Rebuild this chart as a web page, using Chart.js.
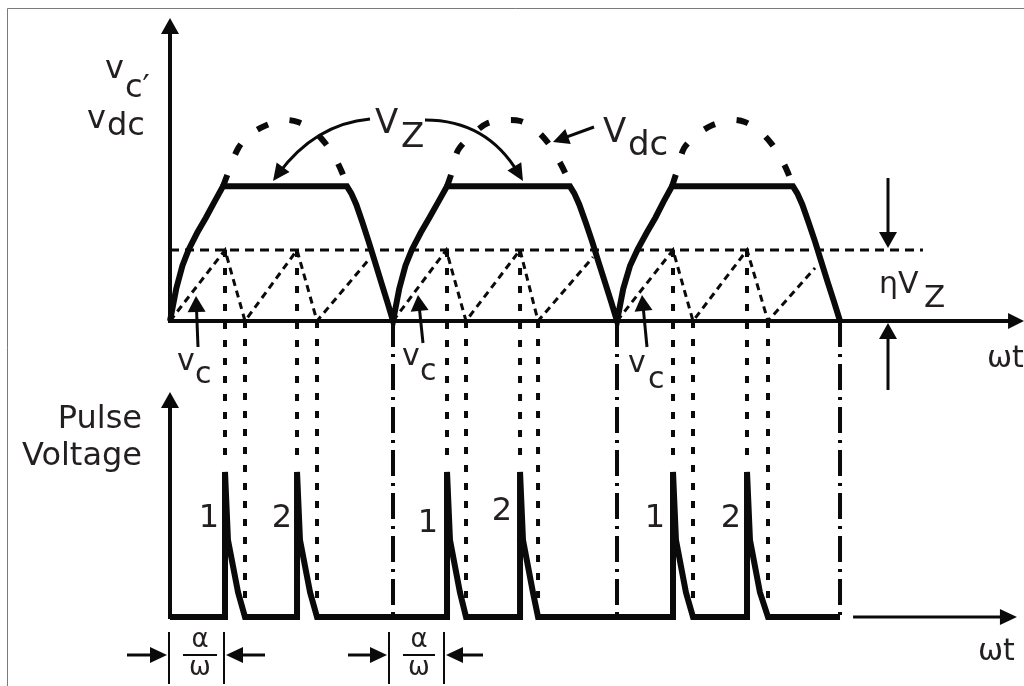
<!DOCTYPE html>
<html>
<head>
<meta charset="utf-8">
<script src="https://cdn.jsdelivr.net/npm/chart.js@4.4.0/dist/chart.umd.min.js"></script>
<style>
  body { margin: 0; background: #fff; }
  canvas { display: block; }
</style>
</head>
<body>
<canvas id="wave" width="1024" height="686"></canvas>
<script>
// ωt in degrees, upper voltages as a fraction of the vdc peak, pulses as a fraction of pulse height
let etaVzLevel = 0.353;

let vzAngles = [0, 5, 10, 15, 22, 29, 36, 42.7, 142.5, 146, 150, 155, 160, 165, 170, 175, 179.6,
    184.6, 189.6, 194.8, 202, 209, 216.3, 223.1, 322.1, 325.6, 329.6, 334.8, 340, 345, 350.2, 355.3, 360,
    365, 370.5, 376.5, 384, 391, 397.6, 404.3, 501.7, 505.2, 509.2, 514.3, 519.5, 524.5, 529.6, 534.8, 539.6];
let vzValues = [0, 0.16, 0.275, 0.355, 0.44, 0.515, 0.595, 0.67, 0.67, 0.635, 0.58, 0.49, 0.395, 0.295, 0.195, 0.095, 0,
    0.16, 0.275, 0.355, 0.44, 0.515, 0.595, 0.67, 0.67, 0.635, 0.58, 0.49, 0.395, 0.295, 0.195, 0.095, 0,
    0.16, 0.275, 0.355, 0.44, 0.515, 0.595, 0.67, 0.67, 0.635, 0.58, 0.49, 0.395, 0.295, 0.195, 0.095, 0];

let vdcAngles = [42.7, 47, 55, 65, 78, 92, 103, 115, 125, 133, 138.5, 142.5, null,
    223.1, 227, 232, 244, 256, 272, 282, 293, 304, 312, 318, 322.1, null,
    404.3, 408, 414, 425, 437, 453, 463, 474, 484, 492, 497.5, 501.7];
let vdcValues = [0.67, 0.74, 0.86, 0.93, 0.975, 1.0, 0.99, 0.95, 0.885, 0.81, 0.74, 0.67, null,
    0.67, 0.74, 0.85, 0.93, 0.985, 1.0, 0.995, 0.96, 0.89, 0.81, 0.74, 0.67, null,
    0.67, 0.74, 0.86, 0.93, 0.975, 1.0, 0.99, 0.95, 0.885, 0.81, 0.74, 0.67];

let vcAngles = [0, 44.3, 60.4, 102.3, 118.4, 161.1, null,
    179.6, 222.5, 238.4, 281.9, 296.4, 340.7, null,
    360, 405.1, 421.2, 464.7, 481.6, 519.5];
let vcValues = [0, 0.353, 0, 0.353, 0, 0.313, null,
    0, 0.353, 0, 0.353, 0, 0.318, null,
    0, 0.353, 0, 0.353, 0, 0.264];

let firingAngles = [44.3, 102.3, 223.1, 281.9, 405.1, 464.7];
let resetAngles = [60.4, 118.4, 238.4, 296.4, 421.2, 481.6];
let valleyAngles = [179.6, 360, 539.6];

let pulseAngles = [0, 44.3, 44.3, 46.7, 54.8, 60.4, 102.3, 102.3, 104.7, 112.8, 118.4,
    223.1, 223.1, 225.5, 233.5, 238.4, 281.9, 281.9, 284.3, 292.3, 296.4,
    405.1, 405.1, 407.5, 415.5, 421.2, 464.7, 464.7, 467.1, 475.1, 481.6, 539.6];
let pulseValues = [0, 0, 1, 0.53, 0.17, 0, 0, 1, 0.53, 0.17, 0,
    0, 1, 0.53, 0.17, 0, 0, 1, 0.53, 0.17, 0,
    0, 1, 0.53, 0.17, 0, 0, 1, 0.53, 0.17, 0, 0];

function points(xs, ys) {
    return xs.map((x, i) => x === null ? { x: NaN, y: null } : { x: x, y: ys[i] });
}

function verticals(xs, top, bottom) {
    let out = [];
    xs.forEach(x => {
        out.push({ x: x, y: top }, { x: x, y: bottom }, { x: x, y: null });
    });
    return out;
}

const ink = "#0a0a0a";
const textInk = "#231f20";

function line(data, width, dash, axis, tension) {
    return {
        data: data,
        borderColor: ink,
        borderWidth: width,
        borderDash: dash || [],
        yAxisID: axis || "y",
        tension: tension || 0,
        pointRadius: 0,
        fill: false,
        spanGaps: false,
        borderCapStyle: "butt",
        borderJoinStyle: "miter"
    };
}

function head(ctx, x1, y1, x2, y2, len, half) {
    let a = Math.atan2(y2 - y1, x2 - x1);
    let bx = x2 - len * Math.cos(a), by = y2 - len * Math.sin(a);
    ctx.beginPath();
    ctx.moveTo(x2, y2);
    ctx.lineTo(bx + half * Math.sin(a), by - half * Math.cos(a));
    ctx.lineTo(bx - half * Math.sin(a), by + half * Math.cos(a));
    ctx.closePath();
    ctx.fill();
}

function arrow(ctx, x1, y1, x2, y2, w, len, half) {
    let a = Math.atan2(y2 - y1, x2 - x1);
    ctx.lineWidth = w;
    ctx.beginPath();
    ctx.moveTo(x1, y1);
    ctx.lineTo(x2 - len * 0.7 * Math.cos(a), y2 - len * 0.7 * Math.sin(a));
    ctx.stroke();
    head(ctx, x1, y1, x2, y2, len, half);
}

function curvedArrow(ctx, x1, y1, cx, cy, x2, y2) {
    ctx.lineWidth = 3;
    ctx.beginPath();
    ctx.moveTo(x1, y1);
    ctx.quadraticCurveTo(cx, cy, x2 - (x2 - cx) * 0.12, y2 - (y2 - cy) * 0.12);
    ctx.stroke();
    head(ctx, cx, cy, x2, y2, 17, 8);
}

function text(ctx, s, x, y, size, align) {
    ctx.font = size + 'px "DejaVu Sans"';
    ctx.textAlign = align || "left";
    ctx.fillText(s, x, y);
}

const decor = {
    id: "decor",
    beforeDraw(chart) {
        let ctx = chart.ctx;
        ctx.save();
        ctx.fillStyle = "#fff";
        ctx.fillRect(0, 0, chart.width, chart.height);
        ctx.strokeStyle = "#7a7a7a";
        ctx.lineWidth = 1;
        ctx.beginPath();
        ctx.moveTo(7.5, chart.height);
        ctx.lineTo(7.5, 8.5);
        ctx.lineTo(1024, 8.5);
        ctx.stroke();
        ctx.restore();
    },
    beforeDatasetsDraw(chart) {
        let ctx = chart.ctx;
        let sx = chart.scales.x, sy = chart.scales.y, sy2 = chart.scales.y2;
        let x0 = sx.getPixelForValue(0);
        ctx.save();
        ctx.strokeStyle = ink;
        ctx.fillStyle = ink;
        // upper axes
        arrow(ctx, x0, sy.getPixelForValue(0) + 2, x0, sy.getPixelForValue(1.507), 4, 16, 9);
        arrow(ctx, x0 - 2, sy.getPixelForValue(0), sx.getPixelForValue(687.8), sy.getPixelForValue(0), 4, 16, 8);
        // lower axes
        arrow(ctx, x0, sy2.getPixelForValue(0) + 2, x0, sy2.getPixelForValue(1.552), 4, 16, 9);
        arrow(ctx, sx.getPixelForValue(550.1), sy2.getPixelForValue(0), sx.getPixelForValue(682.1), sy2.getPixelForValue(0), 3, 17, 8);
        ctx.restore();
    },
    afterDatasetsDraw(chart) {
        let ctx = chart.ctx;
        ctx.save();
        ctx.strokeStyle = ink;
        ctx.fillStyle = ink;
        ctx.lineCap = "butt";

        // label arrows
        curvedArrow(ctx, 370, 119, 315, 124, 273, 181);
        curvedArrow(ctx, 425, 120, 487, 120, 523, 181);
        arrow(ctx, 594, 127, 553, 142, 3, 16, 8);
        arrow(ctx, 198, 347, 196, 296, 3, 16, 9);
        arrow(ctx, 423, 343, 418, 295, 3, 16, 9);
        arrow(ctx, 647, 347, 642, 295, 3, 16, 9);
        arrow(ctx, 888, 178, 888, 248, 3, 16, 9);
        arrow(ctx, 888, 390, 888, 323, 3, 16, 9);

        // α/ω markers
        ctx.lineWidth = 2;
        [169, 224, 389, 444].forEach(x => {
            ctx.beginPath();
            ctx.moveTo(x, 632);
            ctx.lineTo(x, 684);
            ctx.stroke();
        });
        [[183, 217], [403, 435]].forEach(b => {
            ctx.beginPath();
            ctx.moveTo(b[0], 655);
            ctx.lineTo(b[1], 655);
            ctx.stroke();
        });
        arrow(ctx, 127, 655, 167, 655, 3, 17, 8);
        arrow(ctx, 265, 655, 226, 655, 3, 17, 8);
        arrow(ctx, 348, 655, 387, 655, 3, 17, 8);
        arrow(ctx, 483, 655, 446, 655, 3, 17, 8);

        // text
        ctx.fillStyle = textInk;
        text(ctx, "v", 105, 78, 32);
        text(ctx, "c\u2032", 125, 97, 32);
        text(ctx, "v", 87, 128, 32);
        text(ctx, "dc", 107, 135, 32);

        text(ctx, "V", 375, 133, 34);
        text(ctx, "Z", 401, 147, 34);
        text(ctx, "V", 603, 142, 34);
        text(ctx, "dc", 628, 155, 34);

        text(ctx, "\u03b7", 879, 293, 30);
        text(ctx, "V", 898, 293, 30);
        text(ctx, "Z", 924, 307, 31);
        text(ctx, "\u03c9t", 987, 367, 30);
        text(ctx, "\u03c9t", 978, 660, 30);

        text(ctx, "v", 177, 370, 30);
        text(ctx, "c", 195, 383, 30);
        text(ctx, "v", 402, 365, 30);
        text(ctx, "c", 420, 380, 30);
        text(ctx, "v", 628, 372, 30);
        text(ctx, "c", 648, 388, 30);

        text(ctx, "Pulse", 142, 428, 32, "right");
        text(ctx, "Voltage", 142, 465, 32, "right");

        text(ctx, "1", 209, 527, 32, "center");
        text(ctx, "2", 282, 527, 32, "center");
        text(ctx, "1", 428, 532, 32, "center");
        text(ctx, "2", 502, 520, 32, "center");
        text(ctx, "1", 655, 527, 32, "center");
        text(ctx, "2", 731, 527, 32, "center");

        text(ctx, "\u03b1", 200, 647, 26, "center");
        text(ctx, "\u03c9", 200, 675, 26, "center");
        text(ctx, "\u03b1", 419, 647, 26, "center");
        text(ctx, "\u03c9", 419, 675, 26, "center");
        ctx.restore();
    }
};

new Chart(document.getElementById("wave"), {
    type: "line",
    data: {
        datasets: [
            line([{ x: 0, y: etaVzLevel }, { x: 606.4, y: etaVzLevel }], 3, [9, 6]),
            line(points(vcAngles, vcValues), 3, [7, 5]),
            line(verticals(firingAngles, etaVzLevel, -0.69), 4, [7, 11]),
            line(verticals(resetAngles, 0, -1.39), 4, [7, 11]),
            line(verticals(valleyAngles, 0, -1.473), 4, [26, 7, 3, 7]),
            line(points(vdcAngles, vdcValues), 6, [12, 22], "y", 0.3),
            line(points(vzAngles, vzValues), 6),
            line(points(pulseAngles, pulseValues), 6, [], "y2")
        ]
    },
    options: {
        responsive: false,
        animation: false,
        devicePixelRatio: 1,
        layout: { padding: 0 },
        plugins: {
            legend: { display: false },
            tooltip: { enabled: false }
        },
        scales: {
            x: { type: "linear", min: -136.91, max: 687.77, display: false },
            y: { type: "linear", min: -1.816, max: 1.597, display: false },
            y2: { type: "linear", min: -0.476, max: 4.255, display: false }
        }
    },
    plugins: [decor]
});
</script>
</body>
</html>
